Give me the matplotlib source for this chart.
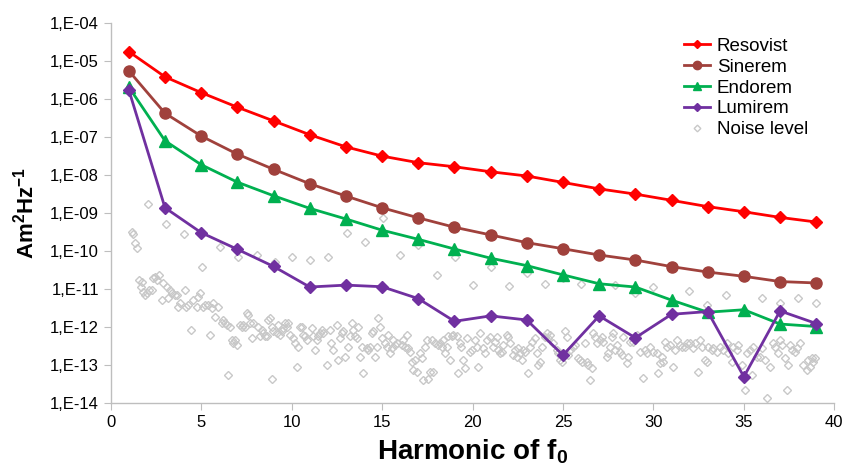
import numpy as np
import matplotlib
matplotlib.use("Agg")
import matplotlib.pyplot as plt
from matplotlib.ticker import FixedLocator, FuncFormatter

plt.rcParams['font.family'] = ['Liberation Sans', 'DejaVu Sans']
plt.rcParams['mathtext.fontset'] = 'custom'
plt.rcParams['mathtext.rm'] = 'Liberation Sans'
plt.rcParams['mathtext.bf'] = 'Liberation Sans:bold'

# odd harmonics
harmonics = [1, 3, 5, 7, 9, 11, 13, 15, 17, 19, 21, 23, 25, 27, 29, 31, 33, 35, 37, 39]

resovist = [1.8e-5, 3.9e-6, 1.5e-6, 6.2e-7, 2.7e-7, 1.17e-7, 5.6e-8, 3.2e-8, 2.15e-8, 1.68e-8,
            1.24e-8, 9.6e-9, 6.5e-9, 4.4e-9, 3.2e-9, 2.2e-9, 1.5e-9, 1.1e-9, 7.8e-10, 5.9e-10]
sinerem = [5.6e-6, 4.3e-7, 1.08e-7, 3.6e-8, 1.44e-8, 6.0e-9, 2.85e-9, 1.4e-9, 7.6e-10, 4.3e-10,
           2.7e-10, 1.69e-10, 1.17e-10, 8.0e-11, 5.9e-11, 3.96e-11, 2.85e-11, 2.2e-11, 1.6e-11, 1.47e-11]
endorem = [2.1e-6, 8.1e-8, 1.9e-8, 6.6e-9, 2.9e-9, 1.35e-9, 7.1e-10, 3.6e-10, 2.07e-10, 1.15e-10,
           6.6e-11, 4.2e-11, 2.4e-11, 1.4e-11, 1.15e-11, 5.2e-12, 2.5e-12, 2.9e-12, 1.22e-12, 1.05e-12]
lumirem = [1.76e-6, 1.4e-9, 3.1e-10, 1.13e-10, 4.0e-11, 1.15e-11, 1.29e-11, 1.17e-11, 5.7e-12, 1.44e-12,
           2.0e-12, 1.56e-12, 1.85e-13, 2.0e-12, 5.3e-13, 2.2e-12, 2.6e-12, 5.0e-14, 2.7e-12, 1.26e-12]

# noise level: harmonic position and log10 of value
noise_h = [1.0, 1.16, 1.25, 1.34, 1.44, 2.04, 3.06, 4.05,
           1.58, 1.71, 1.66, 1.8, 1.9, 1.99, 2.14, 2.27, 2.36, 2.45, 2.54, 2.69, 2.82, 2.91,
           3.09, 3.19, 3.28, 3.37, 3.55, 3.65, 3.74, 3.83, 4.11, 4.16, 4.29, 4.42, 4.57, 4.75,
           4.84, 4.94, 5.03, 5.12, 5.21, 5.4, 5.49, 5.58, 5.67, 5.77, 5.95, 6.04, 6.13, 6.23,
           6.32, 6.41, 6.5, 6.59, 6.69, 6.78, 6.87, 6.96, 7.06, 7.15, 7.24, 7.33, 7.43, 7.52,
           7.61, 7.7, 7.79, 7.88, 8.07, 8.16, 8.25, 8.34, 8.44, 8.53, 8.62, 8.71, 8.8, 8.9,
           8.93, 8.99, 9.08, 9.17, 9.26, 9.36, 9.45, 9.54, 9.63, 9.72, 9.82, 9.91, 10.0, 10.09,
           10.18, 10.28, 10.37, 10.46, 10.55, 10.64, 10.74, 10.83, 11.01, 11.1, 11.2, 11.29,
           11.38, 11.47, 11.56, 11.66, 11.75, 11.94, 12.01, 12.12, 12.2, 12.31, 12.49, 12.58,
           12.68, 12.77, 12.86, 12.95, 13.04, 13.14, 13.23, 13.32, 13.41, 13.5, 13.6, 13.69,
           13.78, 13.87, 13.96, 14.06, 14.15, 14.24, 14.33, 14.42, 14.52, 14.61, 14.7, 14.79,
           14.88, 14.98, 15.07, 15.16, 15.25, 15.34, 15.44, 15.53, 15.62, 15.71, 15.8, 15.99,
           16.08, 16.17, 16.26, 16.36, 16.45, 16.54, 16.63, 16.72, 16.82, 16.91, 17.0, 17.09,
           17.18, 17.28, 17.37, 17.46, 17.55, 17.65, 17.74, 17.83, 17.92, 18.02, 18.11, 18.2,
           18.29, 18.38, 18.48, 18.57, 18.66, 18.75, 18.84, 18.94, 19.03, 19.12, 19.21, 19.3,
           19.39, 19.48, 19.58, 19.67, 19.86, 19.95, 20.04, 20.14, 20.23, 20.32,
           21.0, 22.0, 23.0, 24.0, 25.0, 26.0, 27.0, 27.9, 29.0, 30.0, 31.98, 32.98, 33.99,
           35.0, 35.99, 37.0, 37.98, 39.0,
           20.42, 20.6, 20.69, 20.78, 20.97, 21.15, 21.24, 21.34, 21.43, 21.52, 21.61, 21.71,
           21.89, 21.98, 22.07, 22.26, 22.35, 22.44, 22.53, 22.63, 22.72, 22.81, 22.9, 23.09,
           23.18, 23.27, 23.46, 23.55, 23.64, 23.73, 23.82, 24.01, 24.1, 24.19, 24.28, 24.47,
           24.65, 24.75, 24.84, 24.93, 25.11, 25.21, 25.3, 25.39, 25.57, 25.67, 25.85, 25.94,
           26.04, 26.22, 26.31, 26.4, 26.5, 26.59, 26.68, 26.77, 26.86, 27.05, 27.14, 27.23,
           27.42, 27.51, 27.6, 27.69, 27.79, 27.88, 27.97, 28.15, 28.25, 28.34, 28.52, 28.62,
           28.71, 28.89, 29.08, 29.26, 29.44, 29.54, 29.63, 29.81, 30.0, 30.18, 30.27, 30.37,
           30.46, 30.55, 30.64, 30.73, 30.92, 31.1, 31.19, 31.29, 31.47, 31.56, 31.75, 31.84,
           32.02, 32.21, 32.3, 32.48, 32.58, 32.67, 32.85, 32.95, 33.04, 33.22, 33.31, 33.5,
           33.68, 33.87, 34.05, 34.14, 34.33, 34.42, 34.6, 34.7, 34.88, 35.06, 35.16, 35.34,
           35.43, 35.52, 35.71, 35.89, 35.99, 36.17, 36.26, 36.45, 36.63, 36.72, 36.91, 37.0,
           37.09, 37.28, 37.37, 37.46, 37.55, 37.64, 37.83, 37.92, 38.1, 38.29, 38.47, 38.57,
           38.66, 38.75, 38.84, 38.93]
noise_exp = [-5.75, -9.48, -9.54, -9.79, -9.92, -8.75, -9.29, -9.54,
             -10.75, -10.8, -10.93, -11.06, -11.15, -11.1, -11.02, -11.02, -10.71, -10.67, -10.75, -10.62, -11.28, -10.84,
             -10.93, -11.24, -11.02, -11.1, -11.15, -11.15, -11.46, -11.37, -11.02, -11.46, -11.41, -12.07, -11.28, -11.46,
             -11.19, -11.1, -10.4, -11.46, -11.41, -11.41, -12.2, -11.5, -11.37, -11.72, -11.46, -9.88, -11.89, -11.81,
             -11.89, -11.94, -13.25, -11.98, -12.33, -12.42, -12.33, -12.46, -10.14, -11.94, -11.98, -11.94, -11.98, -11.63,
             -11.68, -11.89, -12.29, -11.89, -10.1, -11.98, -12.24, -12.07, -12.16, -12.24, -12.24, -11.81, -11.76, -11.98,
             -13.37, -12.11, -10.27, -12.16, -11.94, -12.2, -12.11, -12.03, -11.89, -11.98, -11.89, -12.2, -10.14, -12.29,
             -12.42, -13.04, -12.51, -11.98, -11.98, -12.2, -12.24, -12.33, -10.23, -12.03, -12.24, -12.6,
             -12.33, -12.24, -12.16, -12.07, -12.16, -12.99, -10.14, -12.07, -12.42, -12.6, -11.94, -12.86,
             -12.29, -12.16, -12.11, -12.77, -9.53, -12.51, -12.24, -11.89, -12.07, -12.24, -12.29, -11.98,
             -12.77, -12.51, -13.21, -9.75, -12.55, -12.6, -12.51, -12.16, -12.11, -12.77, -12.51, -11.76,
             -11.98, -12.29, -9.13, -12.42, -12.51, -12.2, -12.68, -12.55, -12.33, -12.46, -12.42, -10.1,
             -12.46, -12.33, -12.51, -12.2, -12.55, -12.64, -12.9, -13.12, -12.86, -13.17, -9.84, -12.68,
             -12.82, -13.39, -12.51, -12.33, -13.35, -13.17, -12.33, -13.17, -12.42, -10.62, -12.46, -12.42,
             -12.51, -12.33, -12.68, -12.51, -12.24, -12.86, -12.24, -12.2, -10.14, -12.24, -13.21, -12.42,
             -12.51, -12.86, -13.08, -12.29, -12.64, -12.6, -10.89, -12.33, -12.51, -13.04,
             -10.42, -10.91, -10.56, -10.86, -10.71, -10.86, -10.89, -10.89, -11.1, -10.95, -11.04, -11.41, -11.15,
             -11.54, -11.24, -11.37, -11.24, -11.37,
             -12.16, -12.55, -12.68, -12.33, -12.25, -12.51, -12.38, -12.25, -12.6, -12.68, -12.64, -12.47,
             -12.2, -12.25, -12.42, -12.73, -12.6, -12.77, -12.55, -12.68, -12.86, -12.6, -12.64, -13.21,
             -12.51, -12.38, -12.29, -12.68, -12.99, -12.9, -12.51, -12.25, -12.16, -12.29, -12.2, -12.42,
             -12.6, -12.68, -12.86, -12.9, -12.11, -12.25, -12.73, -12.6, -12.51, -12.47, -12.82, -12.86,
             -12.9, -12.42, -12.9, -12.99, -13.39, -13.08, -12.16, -12.25, -12.42, -12.33, -12.25, -12.38,
             -12.77, -12.68, -12.51, -12.25, -12.16, -12.6, -12.47, -12.64, -12.73, -12.25, -12.95, -12.77,
             -12.38, -12.38, -12.2, -12.64, -13.34, -12.6, -12.68, -12.51, -12.64, -12.68, -13.21, -12.95,
             -12.77, -12.9, -12.38, -12.51, -12.47, -13.04, -12.6, -12.33, -12.47, -12.51, -12.51, -12.42,
             -12.42, -12.55, -12.42, -13.17, -12.33, -12.51, -12.86, -12.9, -12.51, -12.6, -12.55, -12.64,
             -12.51, -12.6, -12.42, -12.68, -12.9, -12.51, -12.6, -12.47, -12.99, -13.65, -12.68, -12.6,
             -13.26, -12.51, -12.77, -12.77, -12.55, -12.86, -13.87, -13.04, -12.42, -12.51, -12.68, -12.33,
             -12.47, -12.82, -13.65, -12.99, -12.47, -12.6, -12.64, -12.55, -12.42, -12.99, -13.12, -12.86,
             -13.04, -12.82, -12.9, -12.82]
noise_vals = [10.0 ** e for e in noise_exp]

fig = plt.figure(figsize=(8.46, 4.68), dpi=100)
ax = fig.add_axes([0.1309, 0.1382, 0.8553, 0.812])

ax.plot(noise_h, noise_vals, linestyle='none', marker='D', markersize=4.5,
        markerfacecolor='none', markeredgecolor='#C8C8C8', markeredgewidth=1.0,
        label='Noise level', zorder=1)
ax.plot(harmonics, resovist, color='#FF0000', lw=2, marker='D', markersize=6, label='Resovist', zorder=5)
ax.plot(harmonics, sinerem, color='#A0413C', lw=2, marker='o', markersize=8, label='Sinerem', zorder=4)
ax.plot(harmonics, endorem, color='#00B050', lw=2, marker='^', markersize=8, label='Endorem', zorder=3)
ax.plot(harmonics, lumirem, color='#7030A0', lw=2, marker='D', markersize=6, label='Lumirem', zorder=3)

ax.set_yscale('log')
ax.set_xlim(0, 40)
ax.set_ylim(1e-14, 1e-4)
ax.xaxis.set_major_locator(FixedLocator(range(0, 41, 5)))
ax.yaxis.set_major_locator(FixedLocator([10.0 ** k for k in range(-14, -3)]))
ax.yaxis.set_minor_locator(FixedLocator([]))
ax.yaxis.set_major_formatter(FuncFormatter(lambda v, p: "1,E-%02d" % round(-np.log10(v))))

for s in ['top', 'right']:
    ax.spines[s].set_visible(False)
for s in ['left', 'bottom']:
    ax.spines[s].set_color('#BEBEBE')
    ax.spines[s].set_linewidth(1.0)
ax.tick_params(axis='both', which='major', direction='out', length=5, color='#BEBEBE',
               labelsize=12, labelcolor='black')

ax.set_xlabel(r'Harmonic of f$_\mathbf{0}$', fontsize=20, fontweight='bold', labelpad=5)
ax.set_ylabel(r'Am$^\mathbf{2}$Hz$^\mathbf{-1}$', fontsize=16, fontweight='bold', labelpad=8)

handles, labels = ax.get_legend_handles_labels()
order = [1, 2, 3, 4, 0]
ax.legend([handles[i] for i in order], [labels[i] for i in order], loc='upper left',
          bbox_to_anchor=(0.792, 0.962), frameon=False, fontsize=13.5, handlelength=1.4,
          labelspacing=0.2, handletextpad=0.35, borderpad=0, borderaxespad=0,
          markerscale=0.75)

fig.savefig('out.png', dpi=100)
